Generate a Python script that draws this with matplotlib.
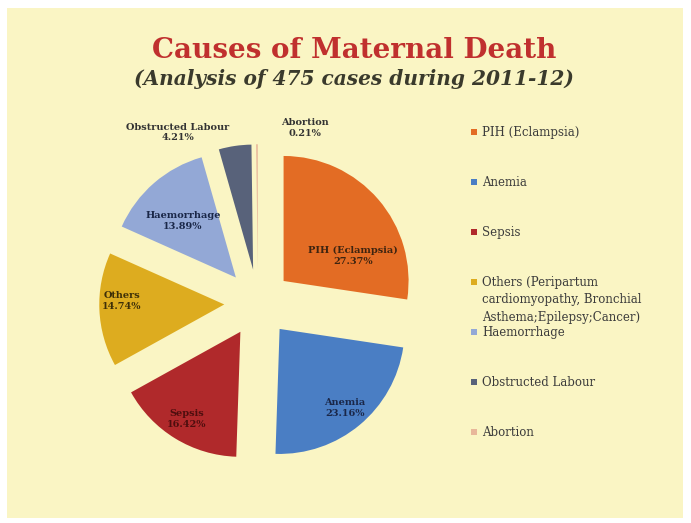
import matplotlib
matplotlib.use("Agg")
import numpy as np
import matplotlib.pyplot as plt
from matplotlib.patches import Rectangle

W, H = 691, 523

causes = ['PIH (Eclampsia)', 'Anemia', 'Sepsis', 'Others', 'Haemorrhage',
          'Obstructed Labour', 'Abortion']
legend_labels = ['PIH (Eclampsia)', 'Anemia', 'Sepsis',
                 'Others (Peripartum\ncardiomyopathy, Bronchial\nAsthema;Epilepsy;Cancer)',
                 'Haemorrhage', 'Obstructed Labour', 'Abortion']
cases = [130, 110, 78, 70, 66, 20, 1]

colors = ['#E36C24', '#4A7EC4', '#B0292B', '#DDAC1F', '#93A8D6', '#58627A', '#E8B79A']
text_colors = ['#3e2410', '#1a2748', '#4e0e0e', '#3e3008', '#1a2748', '#333333', '#333333']

# where each value label sits: degrees off the slice middle, fraction of radius
label_shift = [-20.8, 0, 0, -4.6, 2, 20.4, -18.8]
label_r = [0.59, 0.82, 0.82, 0.82, 0.62, 1.25, 1.19]


def fx(x):
    return x / W


def fy(y):
    return 1 - y / H


plt.rcParams['font.family'] = ['DejaVu Serif']

fig = plt.figure(figsize=(W / 100, H / 100), dpi=100, facecolor='white')
fig.patches.append(Rectangle((fx(7), fy(518)), 676 / W, 510 / H,
                             transform=fig.transFigure, facecolor='#FAF5C4',
                             edgecolor='none', zorder=-5))

fig.text(fx(354), fy(51), 'Causes of Maternal Death', ha='center', va='center',
         fontsize=20, fontweight='bold', color='#C0302E')
fig.text(fx(354), fy(79), '(Analysis of 475 cases during 2011-12)', ha='center',
         va='center', fontsize=14.5, fontweight='bold', fontstyle='italic',
         color='#3a3a2c')

# pie: radius 125 px around (258, 303)
half = 210
ax = fig.add_axes([fx(258 - half), fy(303 + half), 2 * half / W, 2 * half / H])
ax.patch.set_visible(False)
wedges, _ = ax.pie(cases, explode=[0.27] * len(cases), colors=colors,
                   startangle=90, counterclock=False, radius=1,
                   wedgeprops=dict(linewidth=0))
lim = half / 125
ax.set_xlim(-lim, lim)
ax.set_ylim(-lim, lim)
ax.set_aspect('equal')
ax.axis('off')

total = sum(cases)
for w, name, n, sh, rr, tc in zip(wedges, causes, cases, label_shift, label_r, text_colors):
    a = np.deg2rad((w.theta1 + w.theta2) / 2 + sh)
    cx, cy = w.center
    ax.text(cx + w.r * rr * np.cos(a), cy + w.r * rr * np.sin(a),
            f'{name}\n{n / total * 100:.2f}%', ha='center', va='center',
            fontsize=7, fontweight='bold', color=tc, linespacing=1.25)

# legend entries at a fixed pitch
for i, (lab, c) in enumerate(zip(legend_labels, colors)):
    yc = 132 + 50 * i
    fig.patches.append(Rectangle((fx(471), fy(yc + 3)), 6 / W, 6 / H,
                                 transform=fig.transFigure, facecolor=c,
                                 edgecolor='none'))
    fig.text(fx(482), fy(yc - 6), lab, ha='left', va='top', fontsize=8.5,
             color='#3c3c3c', linespacing=1.45)

fig.savefig('out.png', dpi=100, facecolor='white')
